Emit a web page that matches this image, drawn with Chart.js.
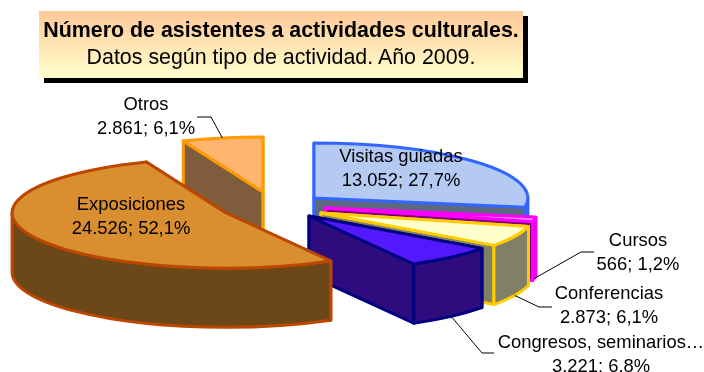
<!DOCTYPE html>
<html>
<head>
<meta charset="utf-8">
<script src="https://cdn.jsdelivr.net/npm/chart.js@4"></script>
<style>
	body { margin: 0; background: #fff; }
	#wrap { position: relative; width: 704px; height: 372px; overflow: hidden; }
	#chart { position: absolute; left: 0; top: 0; }
	#titleBox {
		position: absolute; left: 39px; top: 11px; width: 484px; height: 67px;
		background: linear-gradient(#FFC899, #FFFFCC); box-shadow: 5px 5px 0 #000;
		font-family: "Liberation Sans", Arial, sans-serif; color: #000; text-align: center;
	}
	#titleBox b { position: absolute; left: 0; right: 0; top: 7px; font-size: 21.4px; line-height: 24px; }
	#titleBox span { position: absolute; left: 0; right: 0; top: 34px; font-size: 21.4px; line-height: 24px; }
</style>
</head>
<body>
<div id="wrap">
	<canvas id="chart" width="704" height="372"></canvas>
	<div id="titleBox"><b>Número de asistentes a actividades culturales.</b><span>Datos según tipo de actividad. Año 2009.</span></div>
</div>
<script>
// values
const categories = ['Visitas guiadas', 'Cursos', 'Conferencias', 'Congresos, seminarios…', 'Exposiciones', 'Otros'];
const asistentes = [13052, 566, 2873, 3221, 24526, 2861];

// slice look
const topColors = ['#B4CAF2', '#FFB0FF', '#FFFFCC', '#5119FB', '#D98E30', '#FFB570'];
const wallColors = ['#5E6980', '#800080', '#808066', '#2E0C7E', '#6C4718', '#7F5C3B'];
const lineColors = ['#3366FF', '#FF00FF', '#FFCC00', '#000080', '#BB4700', '#FF9900'];
// how far each slice is pulled away from the chart centre (px)
const explode = [[-38, 12], [-27, 22], [-31, 27], [-43, 30], [-126, 27], [-89, 6]];
const paintOrder = [0, 1, 2, 5, 3, 4];

// label placement, center of text block + optional leader elbow
const labelBoxes = [
	{ x: 401, y: 169 },
	{ x: 638, y: 253, elbow: [594, 252, 581, 252] },
	{ x: 609, y: 306, elbow: [552, 307, 539, 307] },
	{ x: 601, y: 355, elbow: [494, 353, 482, 353] },
	{ x: 131, y: 217 },
	{ x: 146, y: 117, elbow: [197, 117, 211, 117] }
];

const TILT = { rx: 1.15, ry: 0.296, depth: 0.318 };
const FONT = '18.4px "Liberation Sans", Arial, sans-serif';

function es(n) { return String(n).replace(/\B(?=(\d{3})+$)/g, '.'); }
function pct(n, total) { return (n / total * 100).toFixed(1).replace('.', ',') + '%'; }

// pie controller that paints its arcs as tilted, exploded 3D slices
class Pie3DController extends Chart.PieController {
	draw() {
		const ctx = this.chart.ctx;
		const arcs = this.getMeta().data;
		const total = asistentes.reduce((a, b) => a + b, 0);

		const geo = arcs.map((arc, i) => {
			const r = arc.outerRadius;
			return {
				cx: arc.x + explode[i][0], cy: arc.y + explode[i][1],
				rx: r * TILT.rx, ry: r * TILT.ry, depth: r * TILT.depth,
				a0: arc.startAngle, a1: arc.endAngle
			};
		});

		ctx.save();
		ctx.lineJoin = 'round';
		ctx.lineWidth = 3;
		paintOrder.forEach(i => {
			const g = geo[i];
			ctx.strokeStyle = lineColors[i];

			// the two cut faces
			ctx.fillStyle = wallColors[i];
			[g.a0, g.a1].forEach(a => {
				const ox = g.cx + g.rx * Math.cos(a), oy = g.cy + g.ry * Math.sin(a);
				ctx.beginPath();
				ctx.moveTo(g.cx, g.cy);
				ctx.lineTo(ox, oy);
				ctx.lineTo(ox, oy + g.depth);
				ctx.lineTo(g.cx, g.cy + g.depth);
				ctx.closePath();
				ctx.fill(); ctx.stroke();
			});

			// rim, only the part that faces us
			const from = Math.max(g.a0, 0), to = Math.min(g.a1, Math.PI);
			if (to > from) {
				ctx.beginPath();
				ctx.ellipse(g.cx, g.cy, g.rx, g.ry, 0, from, to);
				ctx.ellipse(g.cx, g.cy + g.depth, g.rx, g.ry, 0, to, from, true);
				ctx.closePath();
				ctx.fill(); ctx.stroke();
			}

			// top face
			ctx.fillStyle = topColors[i];
			ctx.beginPath();
			ctx.moveTo(g.cx, g.cy);
			ctx.ellipse(g.cx, g.cy, g.rx, g.ry, 0, g.a0, g.a1);
			ctx.closePath();
			ctx.fill(); ctx.stroke();
		});

		// leader lines run from the slice's mid angle to the elbow
		ctx.strokeStyle = '#000';
		ctx.lineWidth = 1;
		labelBoxes.forEach((b, i) => {
			if (!b.elbow) return;
			const g = geo[i], mid = (g.a0 + g.a1) / 2;
			const onWall = Math.sin(mid) > 0 ? g.depth : 0;
			ctx.beginPath();
			ctx.moveTo(b.elbow[0], b.elbow[1]);
			ctx.lineTo(b.elbow[2], b.elbow[3]);
			ctx.lineTo(g.cx + g.rx * Math.cos(mid), g.cy + g.ry * Math.sin(mid) + onWall);
			ctx.stroke();
		});

		ctx.fillStyle = '#000';
		ctx.font = FONT;
		ctx.textAlign = 'center';
		ctx.textBaseline = 'middle';
		labelBoxes.forEach((b, i) => {
			ctx.fillText(categories[i], b.x, b.y - 12);
			ctx.fillText(es(asistentes[i]) + '; ' + pct(asistentes[i], total), b.x, b.y + 12);
		});
		ctx.restore();
	}
}
Pie3DController.id = 'pie3d';
Pie3DController.defaults = Chart.PieController.defaults;
Pie3DController.overrides = Chart.PieController.overrides;
Chart.register(Pie3DController);

new Chart(document.getElementById('chart'), {
	type: 'pie3d',
	data: { labels: categories, datasets: [{ data: asistentes, borderWidth: 0, backgroundColor: topColors }] },
	options: {
		responsive: false, animation: false,
		layout: { padding: 0 },
		plugins: { legend: { display: false }, tooltip: { enabled: false } }
	}
});
</script>
</body>
</html>
